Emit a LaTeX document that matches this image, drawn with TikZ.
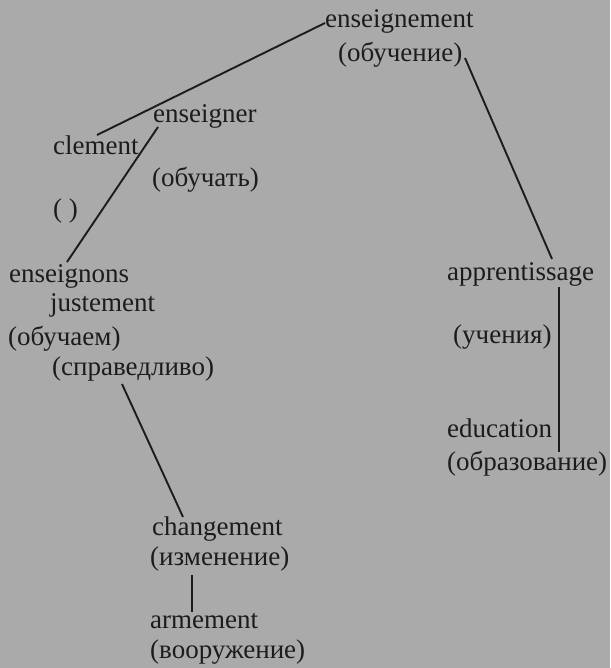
\documentclass[tikz,border=0pt]{standalone}
\usepackage{fontspec}
\setmainfont{Liberation Serif}
\definecolor{paper}{RGB}{170,170,170}
\definecolor{ink}{RGB}{28,28,28}
\begin{document}
\begin{tikzpicture}[x=1pt,y=-1pt,
  word/.style={anchor=base west,inner sep=0pt,text=ink,font=\fontsize{27}{32}\selectfont},
  link/.style={draw=ink,line width=1.9pt}]
\fill[paper] (0,0) rectangle (610,668);
\useasboundingbox (0,0) rectangle (610,668);
% words
\node[word] (ens)   at (325,28)  {enseignement};
\node[word] (obuch) at (338,62)  {(обучение)};
\node[word] (ensr)  at (153,123) {enseigner};
\node[word] (clem)  at (53,155)  {clement};
\node[word] (obca)  at (152,187) {(обучать)};
\node[word] (empty) at (53,218)  {( )};
\node[word] (enss)  at (9,282)   {enseignons};
\node[word] (just)  at (50,311)  {justement};
\node[word] (obcm)  at (8,345)   {(обучаем)};
\node[word] (sprav) at (52,375)  {(справедливо)};
\node[word] (appr)  at (447,280) {apprentissage};
\node[word] (uch)   at (453,343) {(учения)};
\node[word] (edu)   at (447,437) {education};
\node[word] (obraz) at (447,470) {(образование)};
\node[word] (chg)   at (152,535) {changement};
\node[word] (izm)   at (150,565) {(изменение)};
\node[word] (arm)   at (150,628) {armement};
\node[word] (voor)  at (150,658) {(вооружение)};
% connectors
\draw[link] ([shift={(0,-5)}]ens.base west) -- ([shift={(44,-20)}]clem.base west);
\draw[link] ([shift={(5,4)}]ensr.base west) -- ([shift={(58,-20)}]enss.base west);
\draw[link] ([shift={(127,-4)}]obuch.base west) -- ([shift={(105,-21)}]appr.base west);
\draw[link] ([shift={(112,7)}]appr.base west) -- ([shift={(112,-18)}]obraz.base west);
\draw[link] ([shift={(70,9)}]sprav.base west) -- ([shift={(31,-18)}]chg.base west);
\draw[link] ([shift={(42,10)}]izm.base west) -- ([shift={(42,-16)}]arm.base west);
\end{tikzpicture}
\end{document}
